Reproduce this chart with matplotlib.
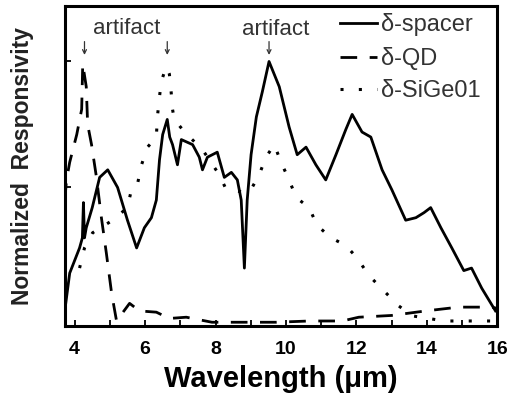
import matplotlib
matplotlib.use("Agg")
import matplotlib.pyplot as plt
from matplotlib.ticker import MultipleLocator

plt.rcParams['font.family'] = ['Liberation Sans', 'DejaVu Sans']

# delta-spacer (solid)
spacer_x = [3.72, 3.86, 4.14, 4.22, 4.25, 4.28, 4.33, 4.5, 4.71, 4.94, 5.22, 5.5, 5.76, 5.98,
            6.18, 6.32, 6.41, 6.5, 6.63, 6.7, 6.78, 6.92, 7.03, 7.35, 7.54, 7.63, 7.77, 8.05,
            8.25, 8.45, 8.62, 8.73, 8.82, 8.9, 9.01, 9.16, 9.33, 9.52, 9.81, 10.09, 10.32,
            10.57, 10.85, 11.13, 11.42, 11.7, 11.88, 12.16, 12.41, 12.73, 13.01, 13.4, 13.69,
            13.92, 14.11, 14.4, 14.71, 15.05, 15.27, 15.56, 15.95]
spacer_y = [0.01, 0.16, 0.26, 0.30, 0.44, 0.30, 0.34, 0.42, 0.54, 0.57, 0.50, 0.37, 0.26, 0.34,
            0.38, 0.45, 0.61, 0.71, 0.77, 0.70, 0.67, 0.59, 0.69, 0.67, 0.62, 0.57, 0.62, 0.64,
            0.54, 0.56, 0.53, 0.45, 0.18, 0.45, 0.63, 0.78, 0.88, 1.00, 0.90, 0.74, 0.63,
            0.66, 0.59, 0.53, 0.63, 0.73, 0.79, 0.72, 0.70, 0.57, 0.49, 0.37, 0.38,
            0.40, 0.42, 0.34, 0.26, 0.17, 0.18, 0.10, 0.01]

# delta-QD (dashed)
qd_x = [3.72, 3.77, 3.86, 4.06, 4.2, 4.23, 4.33, 4.37, 4.48, 4.62, 4.76, 4.9, 5.05, 5.19,
        5.56, 5.84, 6.32, 6.69, 7.17, 7.9, 8.7, 9.72, 10.67, 11.6, 12.07, 13.0, 13.97,
        14.9, 15.84, 16.0]
qd_y = [0.45, 0.53, 0.60, 0.71, 0.81, 0.99, 0.90, 0.75, 0.67, 0.54, 0.38, 0.24, 0.08, -0.03,
        0.04, 0.01, 0.005, -0.02, -0.015, -0.035, -0.035, -0.035, -0.03, -0.03, -0.015,
        -0.008, 0.01, 0.025, 0.025, 0.02]

# delta-SiGe01 (dotted)
sige_x = [4.14, 4.28, 4.51, 5.08, 5.5, 5.61, 5.78, 5.9, 6.07, 6.32, 6.35, 6.41, 6.46, 6.6,
          6.69, 6.74, 6.78, 6.83, 7.12, 7.63, 8.11, 8.31, 8.96, 9.24, 9.43, 9.67, 9.86,
          10.09, 10.29, 10.66, 10.88, 11.28, 11.7, 12.02, 12.36, 12.78, 13.2, 13.6, 14.5,
          15.5, 16.0]
sige_y = [0.18, 0.26, 0.32, 0.37, 0.42, 0.49, 0.51, 0.59, 0.66, 0.70, 0.78, 0.86, 0.92, 0.98,
          0.95, 0.88, 0.81, 0.77, 0.72, 0.65, 0.55, 0.49, 0.48, 0.55, 0.62, 0.67, 0.60,
          0.53, 0.46, 0.42, 0.35, 0.30, 0.27, 0.22, 0.15, 0.09, 0.03, -0.01, -0.03,
          -0.03, -0.03]

series_labels = ['\u03b4-spacer', '\u03b4-QD', '\u03b4-SiGe01']
artifact_x = [4.28, 6.63, 9.52]
xticks = [4, 6, 8, 10, 12, 14, 16]

fig = plt.figure(figsize=(5.10, 4.04), dpi=100)
ax = fig.add_axes([0.127, 0.193, 0.848, 0.792])

ax.plot(spacer_x, spacer_y, color='black', lw=2.0, label=series_labels[0])
ax.plot(qd_x, qd_y, color='black', lw=2.0, dashes=(6, 4.5), label=series_labels[1])
ax.plot(sige_x, sige_y, color='black', lw=2.2, dashes=(1.0, 5.0), label=series_labels[2])

ax.set_xlim(3.72, 16.0)
ax.set_ylim(-0.05, 1.22)
ax.set_xticks(xticks)
ax.xaxis.set_minor_locator(MultipleLocator(1))
ax.set_yticks([0.5, 1.0])
ax.set_yticklabels([])
ax.tick_params(direction='in', length=4, width=1.3, which='both')
ax.tick_params(axis='x', labelsize=14, pad=11)
for lab in ax.get_xticklabels():
    lab.set_fontweight('bold')
for s in ax.spines.values():
    s.set_linewidth(2.2)

ax.set_xlabel('Wavelength (\u03bcm)', fontsize=21, fontweight='bold', labelpad=5)
ax.set_ylabel('Normalized  Responsivity', fontsize=16.5, fontweight='bold', color='#222222', labelpad=19)

# artifact annotations
ax.text(5.47, 1.13, 'artifact', ha='center', va='center', fontsize=16, color='#333333')
ax.text(9.72, 1.125, 'artifact', ha='center', va='center', fontsize=16, color='#333333')
for xa in artifact_x:
    ax.annotate('', xy=(xa, 1.015), xytext=(xa, 1.09),
                arrowprops=dict(arrowstyle='->', color='#333333', lw=0.9,
                                mutation_scale=7))

leg = ax.legend(loc='upper left', frameon=False, fontsize=17, handlelength=1.6,
                handletextpad=0.15, labelspacing=0.45, borderaxespad=0.0, borderpad=0.1,
                bbox_to_anchor=(0.63, 0.985))
for t in leg.get_texts():
    t.set_color('#333333')

fig.savefig('out.png', dpi=100)
